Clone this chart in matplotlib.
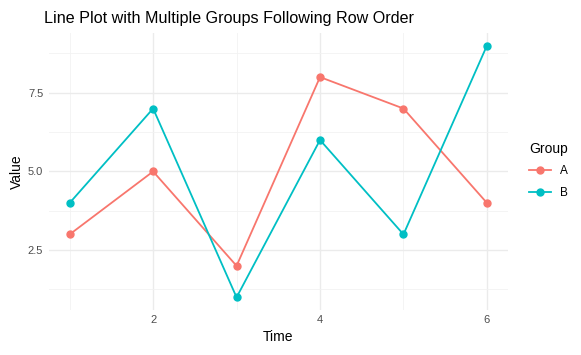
import numpy as np
import matplotlib.pyplot as plt
from matplotlib.ticker import MultipleLocator

plt.rcParams['font.family'] = ['Liberation Sans', 'DejaVu Sans']

time = [1, 2, 3, 4, 5, 6]
value_a = [3, 5, 2, 8, 7, 4]
value_b = [4, 7, 1, 6, 3, 9]
groups = ['A', 'B']
colors = ['#F8766D', '#00BFC4']

fig = plt.figure(figsize=(5.81, 3.55), dpi=100)
ax = fig.add_axes([0.084, 0.127, 0.79, 0.78])

for name, vals, c in zip(groups, [value_a, value_b], colors):
    ax.plot(time, vals, color=c, lw=1.3, marker='o', ms=5, label=name)

ax.set_xlim(0.75, 6.25)
ax.set_ylim(0.6, 9.4)
ax.xaxis.set_major_locator(MultipleLocator(2))
ax.xaxis.set_minor_locator(MultipleLocator(1))
ax.yaxis.set_major_locator(MultipleLocator(2.5))
ax.yaxis.set_minor_locator(MultipleLocator(1.25))
ax.grid(True, which='major', color='#EBEBEB', lw=1.0)
ax.grid(True, which='minor', color='#F2F2F2', lw=0.6)
ax.set_axisbelow(True)
for s in ax.spines.values():
    s.set_visible(False)
ax.tick_params(which='both', length=0, labelsize=8, colors='#4D4D4D', pad=4)
ax.set_xticks([2, 4, 6])
ax.set_xticklabels(['2', '4', '6'])
ax.set_yticks([2.5, 5.0, 7.5])
ax.set_yticklabels(['2.5', '5.0', '7.5'])

ax.set_xlabel('Time', fontsize=10, labelpad=3)
ax.set_ylabel('Value', fontsize=10, labelpad=3)
ax.set_title('Line Plot with Multiple Groups Following Row Order', fontsize=11.6,
             loc='left', x=-0.01, pad=7)

leg = fig.legend(loc='center left', bbox_to_anchor=(0.893, 0.52), frameon=False,
                 title='Group', fontsize=8.5, title_fontsize=10,
                 handlelength=1.8, labelspacing=0.8, alignment='left')

fig.savefig('out.png', dpi=100)
